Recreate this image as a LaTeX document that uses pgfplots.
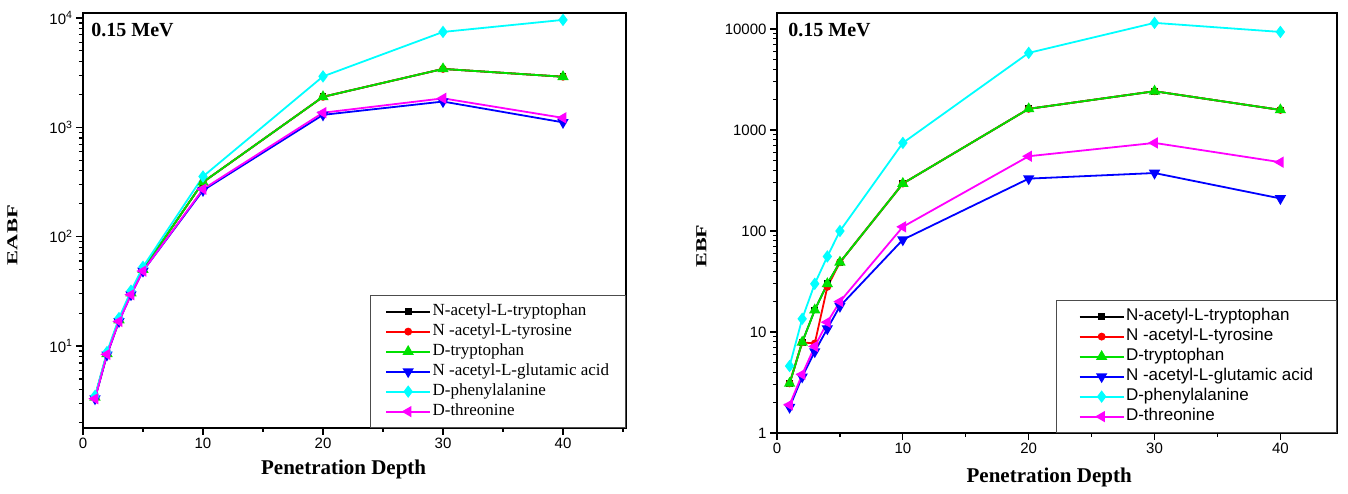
\documentclass[border=0pt]{standalone}
\usepackage{fontspec}
\setmainfont{Liberation Serif}
\newfontfamily\arial{Liberation Sans}
\usepackage{graphicx}
\usepackage{pgfplots}
\pgfplotsset{compat=1.18}
\definecolor{cmag}{RGB}{255,0,255}
\definecolor{ccyan}{RGB}{0,255,255}
\definecolor{cgreen}{RGB}{0,225,0}
\definecolor{cblue}{RGB}{0,0,255}
\definecolor{cred}{RGB}{255,0,0}

\pgfplotstableread{
d   blk   red   grn   blu   cya   mag
1   3.4   3.4   3.4   3.3   3.5   3.3
2   8.5   8.5   8.5   8.3   8.8   8.4
3   17.3  17.3  17.3  16.8  18    16.8
4   30.5  30.5  30.5  29.5  32    29.5
5   50    50    50    48.5  53    48.5
10  315   315   315   265   355   272
20  1900  1900  1900  1300  2920  1360
30  3420  3420  3420  1720  7450  1840
40  2900  2900  2900  1110  9600  1220
}\lefttab

\pgfplotstableread{
d   blk   red   grn   blu   cya   mag
1   3.1   3.1   3.1   1.8   4.6   1.9
2   7.9   7.9   7.9   3.6   13.5  3.8
3   16.5  7.7   16.5  6.4   30    7.2
4   30    28    30    10.8  56    12.5
5   49    49    49    18    100   20
10  295   295   295   82    745   110
20  1620  1620  1620  330   5800  550
30  2420  2420  2420  375   11500 745
40  1580  1580  1580  210   9350  480
}\righttab

\pgfplotsset{
  legend image code/.code={\draw[mark repeat=2,mark phase=2] plot coordinates {(0pt,0pt) (22pt,0pt) (44pt,0pt)};},
}

\begin{document}
\begin{tikzpicture}
\path (0pt,0pt) rectangle (1348pt,493pt);

% ---------- left ----------
\begin{axis}[
  scale only axis, ymode=log, xmin=0,
  axis line style={line width=1.6pt},
  tick align=outside, xtick pos=bottom, ytick pos=left,
  major tick length=7pt, minor tick length=4pt,
  tick style={line width=1.2pt, black},
  xtick={0,10,20,30,40}, xticklabels={0,10,20,30,40},
  minor xtick={5,15,25,35,45},
  minor ytick={2,3,4,5,6,7,8,9,20,30,40,50,60,70,80,90,200,300,400,500,600,700,800,900,2000,3000,4000,5000,6000,7000,8000,9000},
  tick label style={font=\arial\fontsize{15}{18}\selectfont},
  label style={font=\bfseries\fontsize{21}{24}\selectfont},
  every axis plot/.append style={line width=1.8pt},
  legend cell align=left,
  legend style={at={(1,0)}, anchor=south east, draw=black!70, line width=0.8pt,
    inner xsep=15pt, inner ysep=6pt,
    nodes={text height=12pt, text depth=5pt, inner sep=1.5pt},
    font=\fontsize{17}{19}\selectfont},
  at={(83pt,65pt)}, anchor=south west, width=543pt, height=415pt,
  xmax=45.25, ymin=1.78, ymax=11100,
  ytick={10,100,1000,10000},
  yticklabels={10\textsuperscript{1},10\textsuperscript{2},10\textsuperscript{3},10\textsuperscript{4}},
  xlabel={Penetration Depth},
  xlabel style={at={(axis description cs:0.48,-0.101)}, anchor=center},
  ylabel={\resizebox{60pt}{10pt}{\bfseries EABF}},
  ylabel style={at={(axis description cs:-0.13,0.465)}, anchor=center},
]
\addplot[black, mark=square*, mark size=2.5pt] table[x=d,y=blk]{\lefttab};
\addplot[cred, mark=*, mark size=3pt] table[x=d,y=red]{\lefttab};
\addplot[cgreen, mark=triangle*, mark size=4.8pt] table[x=d,y=grn]{\lefttab};
\addplot[cblue, mark=triangle*, mark size=4.8pt, mark options={rotate=180}] table[x=d,y=blu]{\lefttab};
\addplot[ccyan, mark=diamond*, mark size=4.8pt] table[x=d,y=cya]{\lefttab};
\addplot[cmag, mark=triangle*, mark size=4.8pt, mark options={rotate=90}] table[x=d,y=mag]{\lefttab};
\legend{N-acetyl-L-tryptophan, N -acetyl-L-tyrosine, D-tryptophan, N -acetyl-L-glutamic acid, D-phenylalanine, D-threonine}
\node[anchor=west, font=\bfseries\fontsize{20}{22}\selectfont] at (rel axis cs:0.009,0.959) {0.15 MeV};
\end{axis}

% ---------- right ----------
\begin{axis}[
  scale only axis, ymode=log, xmin=0,
  axis line style={line width=1.6pt},
  tick align=outside, xtick pos=bottom, ytick pos=left,
  major tick length=7pt, minor tick length=4pt,
  tick style={line width=1.2pt, black},
  xtick={0,10,20,30,40}, xticklabels={0,10,20,30,40},
  minor xtick={5,15,25,35},
  minor ytick={2,3,4,5,6,7,8,9,20,30,40,50,60,70,80,90,200,300,400,500,600,700,800,900,2000,3000,4000,5000,6000,7000,8000,9000},
  tick label style={font=\arial\fontsize{15}{18}\selectfont},
  label style={font=\bfseries\fontsize{21}{24}\selectfont},
  every axis plot/.append style={line width=1.8pt},
  legend cell align=left,
  legend style={at={(1,0)}, anchor=south east, draw=black!70, line width=0.8pt,
    inner xsep=22pt, inner ysep=6pt,
    nodes={text height=12pt, text depth=5pt, inner sep=1.5pt},
    font=\arial\fontsize{17}{19}\selectfont},
  at={(777pt,60pt)}, anchor=south west, width=560pt, height=420pt,
  xmax=44.5, ymin=1, ymax=14400,
  ytick={1,10,100,1000,10000},
  yticklabels={1,10,100,1000,10000},
  xlabel={Penetration Depth},
  xlabel style={at={(axis description cs:0.486,-0.107)}, anchor=center},
  ylabel={\resizebox{43pt}{10pt}{\bfseries EBF}},
  ylabel style={at={(axis description cs:-0.135,0.445)}, anchor=center},
]
\addplot[black, mark=square*, mark size=2.5pt] table[x=d,y=blk]{\righttab};
\addplot[cred, mark=*, mark size=3pt] table[x=d,y=red]{\righttab};
\addplot[cgreen, mark=triangle*, mark size=4.8pt] table[x=d,y=grn]{\righttab};
\addplot[cblue, mark=triangle*, mark size=4.8pt, mark options={rotate=180}] table[x=d,y=blu]{\righttab};
\addplot[ccyan, mark=diamond*, mark size=4.8pt] table[x=d,y=cya]{\righttab};
\addplot[cmag, mark=triangle*, mark size=4.8pt, mark options={rotate=90}] table[x=d,y=mag]{\righttab};
\legend{N-acetyl-L-tryptophan, N -acetyl-L-tyrosine, D-tryptophan, N -acetyl-L-glutamic acid, D-phenylalanine, D-threonine}
\node[anchor=west, font=\bfseries\fontsize{20}{22}\selectfont] at (rel axis cs:0.014,0.96) {0.15 MeV};
\end{axis}
\end{tikzpicture}
\end{document}
